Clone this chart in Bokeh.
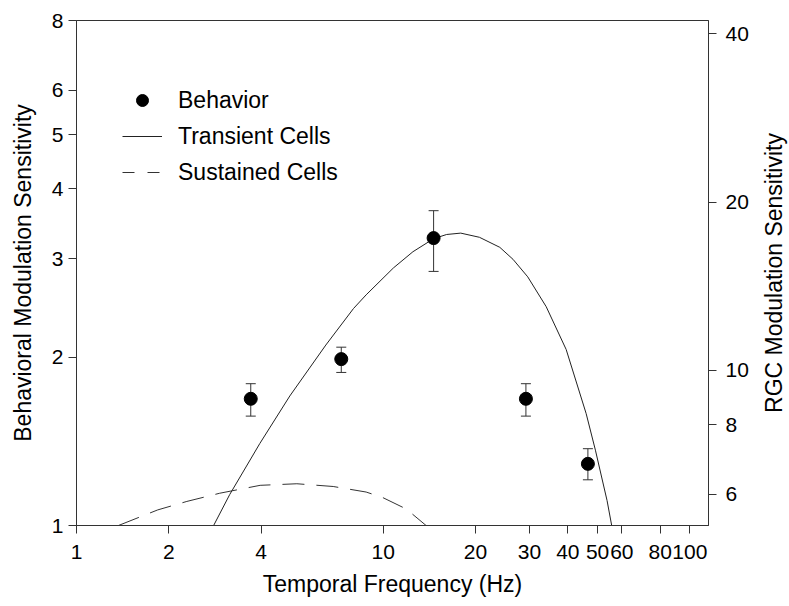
import math
from bokeh.plotting import figure
from bokeh.layouts import row
from bokeh.models import (ColumnDataSource, Range1d, LogScale, LogAxis, FixedTicker,
                          Whisker, TeeHead, Legend, LegendItem, Label)
from bokeh.embed import file_html
from bokeh.resources import INLINE

# ---------------- data ----------------
behavior_freq = [3.7, 7.3, 14.6, 29.2, 46.5]
behavior_sens = [1.685, 1.984, 3.266, 1.685, 1.289]
behavior_low = [1.569, 1.878, 2.847, 1.569, 1.207]
behavior_high = [1.793, 2.084, 3.656, 1.793, 1.372]

transient_freq = [2.8, 3.16, 3.96, 4.96, 6.5, 8.0, 8.8, 10.8, 12.5, 14.6, 16.1, 17.9,
                  20.6, 24.0, 26.5, 29.6, 34.0, 39.5, 45.9, 49.2, 53.7, 55.6]
transient_rgc = [5.28, 6.0, 7.4, 9.0, 11.1, 12.9, 13.65, 15.25, 16.3, 17.2, 17.5, 17.6,
                 17.3, 16.6, 15.8, 14.7, 13.0, 10.9, 8.37, 7.2, 5.85, 5.28]

sustained_freq = [1.37, 1.84, 2.29, 2.93, 3.97, 5.23, 6.87, 8.8, 9.99, 11.9, 13.8]
sustained_rgc = [5.28, 5.63, 5.83, 6.03, 6.23, 6.27, 6.20, 6.06, 5.92, 5.65, 5.28]

x_ticks = [1, 2, 4, 10, 20, 30, 40, 50, 60, 80, 100]
x_tick_labels = ["1", "2", "4", "10", "20", "30", "40", "50", "60", "80", "100"]
left_ticks = [1, 2, 3, 4, 5, 6, 8]
left_tick_labels = ["1", "2", "3", "4", "5", "6", "8"]
right_ticks = [6, 8, 10, 20, 40]
right_tick_labels = ["6", "8", "10", "20", "40"]

x_lim = (1, 115)
left_lim = (1, 8)
right_lim = (5.28, 42.24)

FONT = "Liberation Sans"
AXC = "#333333"
TICK_FS = "21px"
LABEL_FS = "23px"

W, H = 755, 606          # main figure
SIDE_W = 34              # strip holding the right-hand axis title
BL, BR, BT, BB = 76, 47, 20, 81
FRAME_H = H - BT - BB

p = figure(width=W, height=H, x_axis_type="log", y_axis_type="log",
           x_range=Range1d(*x_lim), y_range=Range1d(*left_lim),
           output_backend="svg", toolbar_location=None,
           min_border_left=BL, min_border_right=BR, min_border_top=BT, min_border_bottom=BB)
p.extra_y_ranges = {"rgc": Range1d(*right_lim)}
p.extra_y_scales = {"rgc": LogScale()}
p.grid.visible = False
p.outline_line_color = AXC
p.background_fill_color = "white"
p.border_fill_color = "white"

raxis = LogAxis(y_range_name="rgc")
p.add_layout(raxis, "right")

def style(ax, ticks, labels, title):
    ax.ticker = FixedTicker(ticks=ticks, minor_ticks=[])
    ax.major_label_overrides = {t: s for t, s in zip(ticks, labels)}
    ax.axis_label = title
    ax.axis_line_color = AXC
    ax.major_tick_line_color = AXC
    ax.minor_tick_line_color = None
    ax.major_tick_out = 8
    ax.major_tick_in = 0
    ax.major_label_text_font = FONT
    ax.major_label_text_font_size = TICK_FS
    ax.major_label_text_color = "black"
    ax.axis_label_text_font = FONT
    ax.axis_label_text_font_size = LABEL_FS
    ax.axis_label_text_font_style = "normal"
    ax.axis_label_text_color = "black"

style(p.xaxis[0], x_ticks, x_tick_labels, "Temporal Frequency (Hz)")
style(p.yaxis[0], left_ticks, left_tick_labels, "Behavioral Modulation Sensitivity")
style(raxis, right_ticks, right_tick_labels, None)
p.xaxis[0].major_label_standoff = 11
p.xaxis[0].axis_label_standoff = 9
p.yaxis[0].major_label_standoff = 5
p.yaxis[0].axis_label_standoff = 13
raxis.major_label_standoff = 9

# curves (RGC units, right axis)
trans = p.line(transient_freq, transient_rgc, y_range_name="rgc", line_color="#222222", line_width=1)
p.line(sustained_freq, sustained_rgc, y_range_name="rgc", line_color="#333333", line_width=1,
       line_dash="22 12")

# behavior points with error bars (left axis)
src = ColumnDataSource(dict(x=behavior_freq, y=behavior_sens, lo=behavior_low, hi=behavior_high))
wh = Whisker(source=src, base="x", upper="hi", lower="lo", line_color=AXC, line_width=1,
             upper_head=TeeHead(size=10, line_color=AXC, line_width=1),
             lower_head=TeeHead(size=10, line_color=AXC, line_width=1))
p.add_layout(wh)
pts = p.scatter("x", "y", source=src, size=13, fill_color="black", line_color="black")

# legend-only renderer for the dashed style (no visible mark)
leg_sust = p.line([float("nan")], [float("nan")], line_color="#333333", line_width=1, line_dash="12 13")

legend = Legend(items=[LegendItem(label="Behavior", renderers=[pts]),
                       LegendItem(label="Transient Cells", renderers=[trans]),
                       LegendItem(label="Sustained Cells", renderers=[leg_sust])],
                location=(46, 338), glyph_width=40, glyph_height=30, label_height=30,
                spacing=6, padding=0, margin=0, label_standoff=16,
                border_line_color=None, background_fill_alpha=0,
                label_text_font=FONT, label_text_font_size=LABEL_FS, label_text_color="black")
p.add_layout(legend)

# side strip with the right axis title, reading bottom to top
side = figure(width=SIDE_W, height=H, x_range=Range1d(0, 1), y_range=Range1d(0, 1),
              x_axis_location=None, y_axis_location=None, toolbar_location=None,
              output_backend="svg", min_border=0)
side.grid.visible = False
side.outline_line_color = None
side.border_fill_color = "white"
side.add_layout(Label(x=18, y=FRAME_H / 2, x_units="screen", y_units="screen",
                      text="RGC Modulation Sensitivity", angle=math.pi / 2,
                      text_align="center", text_baseline="middle",
                      text_font=FONT, text_font_size=LABEL_FS, text_color="black"))

layout = row(p, side, spacing=0)
open("out.html", "w").write(file_html(layout, INLINE))
